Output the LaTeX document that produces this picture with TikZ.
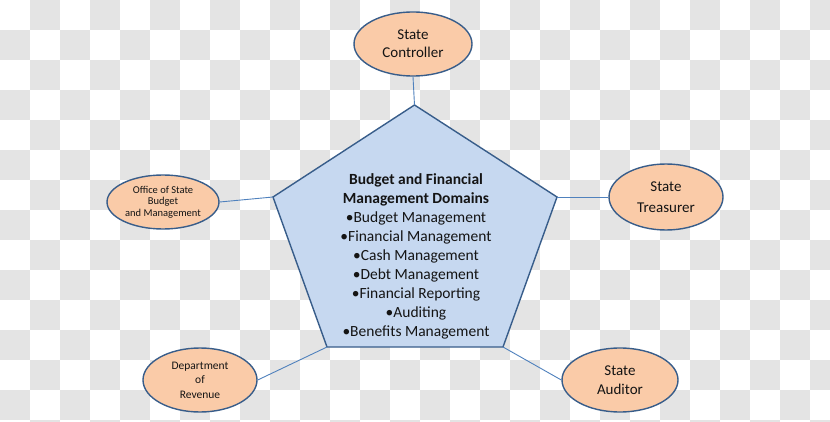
\documentclass[tikz,border=0pt]{standalone}
\usepackage{fontspec}
\setmainfont{Carlito}
\usetikzlibrary{shapes.geometric}
\definecolor{chk}{RGB}{228,228,228}
\definecolor{peach}{RGB}{250,203,168}
\definecolor{pent}{RGB}{198,216,240}
\definecolor{edge}{RGB}{56,93,138}
\definecolor{conn}{RGB}{79,129,189}
\definecolor{txt}{RGB}{20,20,20}
\tikzset{
  party/.style={ellipse, draw=edge, line width=1.4pt, fill=peach, inner sep=0pt,
    align=center, text=txt},
  link/.style={draw=conn, line width=0.9pt},
}
\begin{document}
\begin{tikzpicture}[x=1pt,y=-1pt]
\useasboundingbox (0,0) rectangle (830,422);
\fill[white] (0,0) rectangle (830,422);
\begin{scope}
\clip (0,0) rectangle (830,422);
\foreach \i in {0,...,27}{
  \foreach \j in {0,...,14}{
    \pgfmathparse{int(mod(\i+\j,2))}
    \ifnum\pgfmathresult=1
      \fill[chk] (\i*30,\j*30) rectangle ++(30,30);
    \fi
  }
}
\end{scope}
% pentagon
\coordinate (ptop) at (414.5,105);
\coordinate (pleft) at (273,197);
\coordinate (pright) at (557,197);
\coordinate (pbl) at (327,347);
\coordinate (pbr) at (503,347);
\draw[draw=edge, line width=1.4pt, fill=pent, line join=miter]
  (ptop) -- (pright) -- (pbr) -- (pbl) -- (pleft) -- cycle;
\node[align=center, text=txt, font=\fontsize{15.5}{19}\selectfont] (domains) at (416,256)
 {\textbf{Budget and Financial}\\\textbf{Management Domains}\\
  •Budget Management\\•Financial Management\\•Cash Management\\
  •Debt Management\\•Financial Reporting\\•Auditing\\•Benefits Management};
% ellipses
\node[party, minimum width=118pt, minimum height=64pt, font=\fontsize{15}{18}\selectfont]
  (ctrl) at (413,44) {State\\Controller};
\node[party, minimum width=114pt, minimum height=66pt, font=\fontsize{15}{21}\selectfont]
  (treas) at (666,197) {State\\Treasurer};
\node[party, minimum width=112pt, minimum height=54pt, font=\fontsize{10.5}{11.5}\selectfont]
  (osbm) at (163,202) {Office of State\\Budget\\and Management};
\node[party, minimum width=114pt, minimum height=64pt, font=\fontsize{11.5}{14.5}\selectfont]
  (dor) at (200,380) {Department\\of\\Revenue};
\node[party, minimum width=116pt, minimum height=64pt, font=\fontsize{15}{19}\selectfont]
  (aud) at (620,380) {State\\Auditor};
% connectors
\draw[link] (ctrl.south) -- (ptop);
\draw[link] (treas.west) -- (pright);
\draw[link] (osbm.east) -- (pleft);
\draw[link] (dor.east) -- (pbl);
\draw[link] (aud.west) -- (pbr);
\end{tikzpicture}
\end{document}
